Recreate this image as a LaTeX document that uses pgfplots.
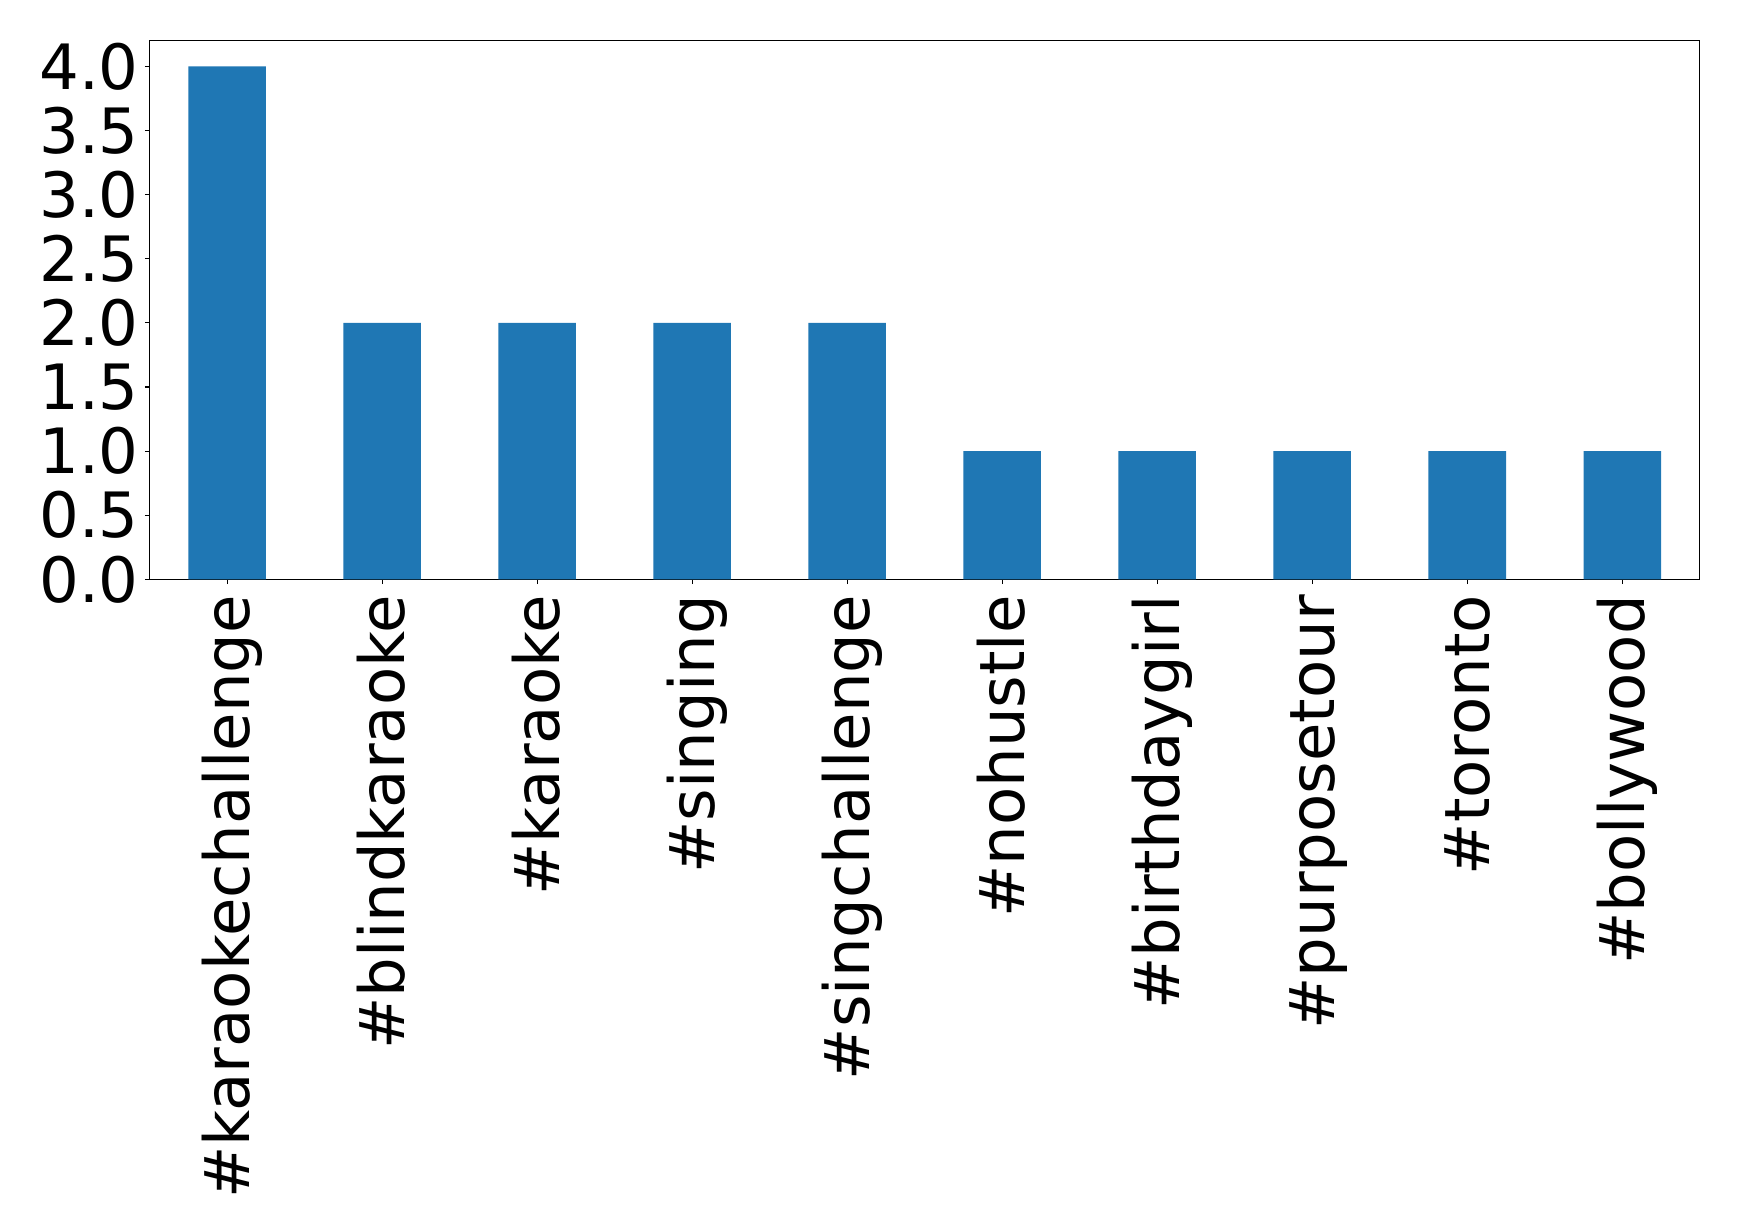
\documentclass[border=0pt]{standalone}
\usepackage{pgfplots}
\pgfplotsset{compat=1.18}
\usepackage{fontspec}
\setmainfont{DejaVu Sans}
\definecolor{mplblue}{HTML}{1F77B4}
\begin{document}
\begin{tikzpicture}
\begin{axis}[
  at={(0,0)}, anchor=south west,
  scale only axis, width=1116pt, height=387.8pt,
  xmin=-0.5, xmax=9.5, ymin=0, ymax=4.2,
  ybar, bar width=0.5,
  xtick={0,1,2,3,4,5,6,7,8,9},
  xticklabels={\#karaokechallenge,\#blindkaraoke,\#karaoke,\#singing,\#singchallenge,\#nohustle,\#birthdaygirl,\#purposetour,\#toronto,\#bollywood},
  ytick={0,0.5,1,1.5,2,2.5,3,3.5,4},
  /pgf/number format/assume math mode=true,
  y tick label style={/pgf/number format/fixed, /pgf/number format/fixed zerofill, /pgf/number format/precision=1},
  tick align=outside, major tick length=3.5pt,
  tick pos=left,
  tick style={line width=0.8pt, black},
  axis line style={line width=0.8pt, black},
  tick label style={font=\fontsize{45}{54}\selectfont, text=black},
  x tick label style={rotate=90, anchor=base east, inner sep=0pt, xshift=-7.8pt, yshift=-15.8pt},
  y tick label style={inner sep=0pt, xshift=-4.2pt},
]
\addplot[fill=mplblue, draw=none] coordinates {(0,4) (1,2) (2,2) (3,2) (4,2) (5,1) (6,1) (7,1) (8,1) (9,1)};
\end{axis}
\pgfresetboundingbox
\useasboundingbox (-107.8pt,-469.9pt) rectangle (1144.3pt,417.1pt);
\end{tikzpicture}
\end{document}
